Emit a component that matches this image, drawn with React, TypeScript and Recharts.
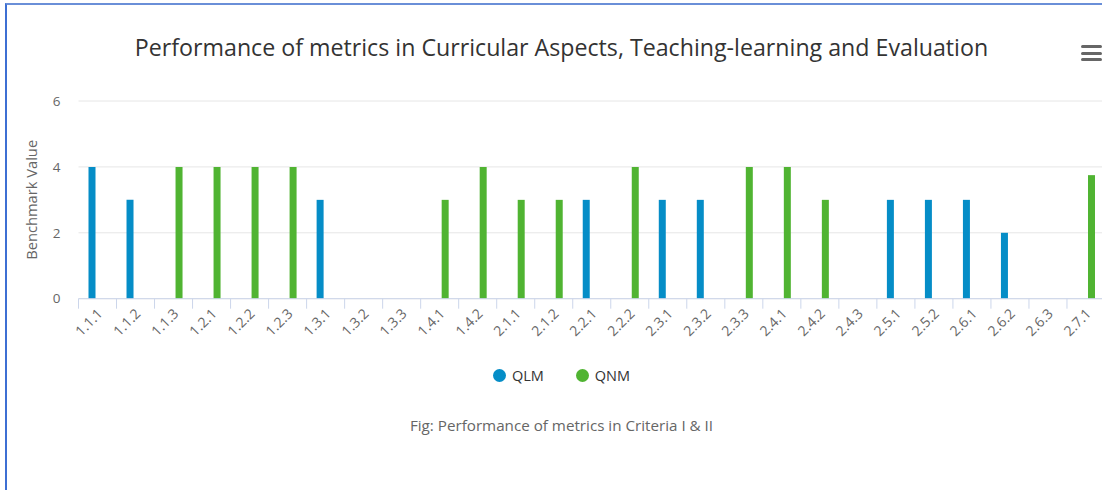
import { Bar, BarChart, CartesianGrid, XAxis, YAxis } from "recharts";

const categories = [
  "1.1.1", "1.1.2", "1.1.3", "1.2.1", "1.2.2", "1.2.3", "1.3.1", "1.3.2", "1.3.3",
  "1.4.1", "1.4.2", "2.1.1", "2.1.2", "2.2.1", "2.2.2", "2.3.1", "2.3.2", "2.3.3",
  "2.4.1", "2.4.2", "2.4.3", "2.5.1", "2.5.2", "2.6.1", "2.6.2", "2.6.3", "2.7.1",
];
const qlm = [4, 3, null, null, null, null, 3, null, null, null, null, null, null, 3, null, 3, 3, null, null, null, null, 3, 3, 3, 2, null, null];
const qnm = [null, null, 4, 4, 4, 4, null, null, null, 3, 4, 3, 3, null, 4, null, null, 4, 4, 3, null, null, null, null, null, null, 3.75];
const yTicks = [0, 2, 4, 6];

const series = [
  { key: "QLM", color: "#058DC7" },
  { key: "QNM", color: "#50B432" },
];

const rows = categories.map((c, i) => ({ name: c, QLM: qlm[i], QNM: qnm[i] }));

const PLOT_LEFT = 78.5;
const PLOT_RIGHT = 1105;
const HALF_BAND = (PLOT_RIGHT - PLOT_LEFT) / categories.length / 2;

const FONT = "'Open Sans', sans-serif";

function XTick(props: any) {
  const { x, y, payload } = props;
  const ax = x + 6;
  const ay = y + 16;
  return (
    <g>
      <line x1={x - HALF_BAND} y1={y} x2={x - HALF_BAND} y2={y + 10} stroke="#ccd6eb" />
      <text
        x={ax}
        y={ay}
        textAnchor="end"
        transform={`rotate(-45, ${ax}, ${ay})`}
        fill="#666666"
        fontSize={14}
        fontFamily={FONT}
      >
        {payload.value}
      </text>
    </g>
  );
}

function YLabel(props: any) {
  const { viewBox } = props;
  const x = viewBox.x + 37;
  const y = viewBox.y + viewBox.height / 2;
  return (
    <text
      x={x}
      y={y}
      transform={`rotate(-90, ${x}, ${y})`}
      textAnchor="middle"
      fill="#666666"
      fontSize={14.7}
      fontFamily={FONT}
    >
      Benchmark Value
    </text>
  );
}

export default function App() {
  return (
    <div
      style={{
        position: "absolute",
        left: 0,
        top: 0,
        width: 1102,
        height: 490,
        overflow: "hidden",
        background: "#ffffff",
        fontFamily: FONT,
      }}
    >
      <div
        style={{
          position: "absolute",
          left: 5,
          top: 3,
          width: 1200,
          height: 600,
          borderLeft: "2px solid #3d6fd3",
          borderTop: "2px solid #6a8fd8",
        }}
      />
      <div
        style={{
          position: "absolute",
          left: 0,
          top: 31,
          width: 1123,
          textAlign: "center",
          fontSize: 23.2,
          color: "#333333",
        }}
      >
        Performance of metrics in Curricular Aspects, Teaching-learning and Evaluation
      </div>
      <div style={{ position: "absolute", left: 1081, top: 45 }}>
        {[0, 1, 2].map((i) => (
          <div
            key={i}
            style={{
              width: 21,
              height: 3,
              borderRadius: 1.5,
              background: "#666666",
              marginBottom: 3.5,
            }}
          />
        ))}
      </div>
      <div style={{ position: "absolute", left: 0, top: 0 }}>
        <BarChart
          width={1110}
          height={490}
          data={rows}
          margin={{ top: 101, right: 1110 - PLOT_RIGHT, bottom: 151.3, left: 0 }}
          barSize={7}
          barGap={4}
        >
          <CartesianGrid vertical={false} stroke="#e6e6e6" />
          <XAxis
            dataKey="name"
            height={40}
            interval={0}
            tickSize={0}
            tickMargin={0}
            tickLine={false}
            axisLine={{ stroke: "#ccd6eb" }}
            tick={<XTick />}
          />
          <YAxis
            width={PLOT_LEFT}
            domain={[0, 6]}
            ticks={yTicks}
            axisLine={false}
            tickLine={false}
            tickSize={0}
            tickMargin={18}
            tick={{ fill: "#666666", fontSize: 13.5, fontFamily: FONT }}
            label={{ content: <YLabel /> }}
          />
          {series.map((s) => (
            <Bar key={s.key} dataKey={s.key} fill={s.color} isAnimationActive={false} />
          ))}
        </BarChart>
      </div>
      <div
        style={{
          position: "absolute",
          left: 0,
          top: 366,
          width: 1123,
          display: "flex",
          justifyContent: "center",
          fontSize: 14.5,
          color: "#333333",
        }}
      >
        {series.map((s, i) => (
          <div
            key={s.key}
            style={{ display: "flex", alignItems: "center", marginLeft: i ? 32 : 0 }}
          >
            <span
              style={{
                display: "inline-block",
                width: 13,
                height: 13,
                borderRadius: 6.5,
                background: s.color,
                marginRight: 6,
              }}
            />
            <span>{s.key}</span>
          </div>
        ))}
      </div>
      <div
        style={{
          position: "absolute",
          left: 0,
          top: 415,
          width: 1123,
          textAlign: "center",
          fontSize: 15.2,
          color: "#666666",
        }}
      >
        Fig: Performance of metrics in Criteria I &amp; II
      </div>
    </div>
  );
}
